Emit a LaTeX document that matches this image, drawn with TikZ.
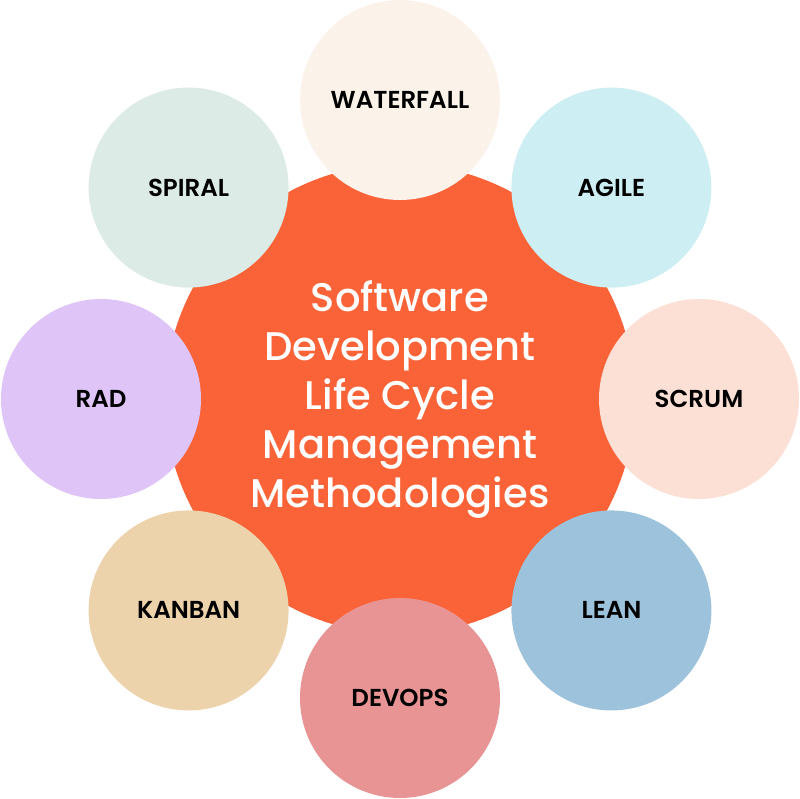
\documentclass[tikz,border=0pt]{standalone}
\usepackage{fontspec}
\setmainfont{Poppins}
\newfontfamily\hubfont{Poppins Medium}
\newfontfamily\petalfont{Poppins SemiBold}
\usepackage{tikz}
\usetikzlibrary{positioning}
\usepackage{xcolor}

\definecolor{hub}{HTML}{F96337}
\definecolor{cWaterfall}{HTML}{FBF3EA}
\definecolor{cAgile}{HTML}{CDEEF2}
\definecolor{cScrum}{HTML}{FDE0D5}
\definecolor{cLean}{HTML}{9DC3DC}
\definecolor{cDevops}{HTML}{E89494}
\definecolor{cKanban}{HTML}{EDD3AB}
\definecolor{cRad}{HTML}{DFC4F7}
\definecolor{cSpiral}{HTML}{DDEBE7}

\begin{document}
\begin{tikzpicture}[
    x=1pt, y=1pt,
    core/.style={circle, fill=hub, minimum size=470pt, inner sep=0pt, align=center, text=white, font=\hubfont\fontsize{40}{49}\selectfont},
    petal/.style={circle, minimum size=200pt, inner sep=0pt, align=center, font=\petalfont\fontsize{24.5}{28}\selectfont}
]
\useasboundingbox (-400,-399) rectangle (400,399);

\node[core] (hub) at (0,0) {Software\\Development\\Life Cycle\\Management\\Methodologies};

% Methodologies around the hub
\node[petal, fill=cWaterfall] (waterfall) at (90:299) {WATERFALL};
\node[petal, fill=cAgile] (agile) at (45:299) {AGILE};
\node[petal, fill=cScrum] (scrum) at (0:299) {SCRUM};
\node[petal, fill=cLean] (lean) at (-45:299) {LEAN};
\node[petal, fill=cDevops] (devops) at (-90:299) {DEVOPS};
\node[petal, fill=cKanban] (kanban) at (-135:299) {KANBAN};
\node[petal, fill=cRad] (rad) at (180:299) {RAD};
\node[petal, fill=cSpiral] (spiral) at (135:299) {SPIRAL};
\end{tikzpicture}
\end{document}
